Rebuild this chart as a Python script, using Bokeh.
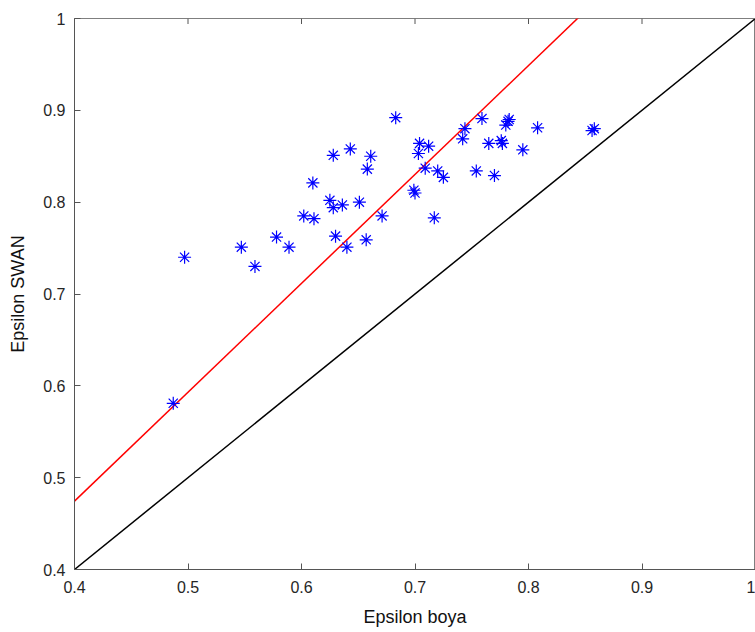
from bokeh.plotting import figure
from bokeh.models import Range1d, FixedTicker
from bokeh.embed import file_html
from bokeh.resources import INLINE

# Data
eps_boya = [0.487, 0.497, 0.547, 0.559, 0.578, 0.589, 0.602, 0.611, 0.610, 0.628,
            0.643, 0.661, 0.658, 0.625, 0.628, 0.636, 0.651, 0.630, 0.640, 0.657,
            0.671, 0.683, 0.704, 0.712, 0.703, 0.709, 0.720, 0.725, 0.699, 0.700,
            0.717, 0.744, 0.742, 0.759, 0.765, 0.776, 0.777, 0.780, 0.782, 0.783,
            0.795, 0.754, 0.770, 0.808, 0.856, 0.858]
eps_swan = [0.581, 0.740, 0.751, 0.730, 0.762, 0.751, 0.785, 0.782, 0.821, 0.851,
            0.858, 0.850, 0.836, 0.802, 0.794, 0.797, 0.800, 0.763, 0.751, 0.759,
            0.785, 0.892, 0.864, 0.861, 0.853, 0.837, 0.834, 0.827, 0.813, 0.810,
            0.783, 0.880, 0.869, 0.891, 0.864, 0.867, 0.864, 0.884, 0.888, 0.890,
            0.857, 0.834, 0.829, 0.881, 0.878, 0.880]
fit_slope = 1.186
line_x = [0.4, 1.0]
x_ticks = [0.4, 0.5, 0.6, 0.7, 0.8, 0.9, 1.0]
y_ticks = [0.4, 0.5, 0.6, 0.7, 0.8, 0.9, 1.0]

p = figure(width=755, height=632, output_backend="svg", toolbar_location=None,
           x_range=Range1d(0.4, 1.0), y_range=Range1d(0.4, 1.0),
           min_border_left=74, min_border_right=0, min_border_top=18, min_border_bottom=63)
p.background_fill_color = "white"
p.border_fill_color = "white"
p.outline_line_color = "#7f7f7f"
p.outline_line_width = 1
p.grid.visible = False

fit_y = [fit_slope * v for v in line_x]
p.line(line_x, line_x, line_color="black", line_width=1.5)
p.line(line_x, fit_y, line_color="red", line_width=1.5)
p.scatter(eps_boya, eps_swan, marker="asterisk", size=13, line_color="blue", line_width=1.2)

# inward tick marks along the top edge of the box
tick_len = 0.006
p.segment(x0=x_ticks, x1=x_ticks, y0=[1.0] * len(x_ticks), y1=[1.0 - tick_len] * len(x_ticks),
          line_color="#555555", line_width=1)

font = "Liberation Sans"
for ax in (p.xaxis[0], p.yaxis[0]):
    ax.axis_line_color = "#555555"
    ax.major_tick_line_color = "#555555"
    ax.major_tick_in = 6
    ax.major_tick_out = 0
    ax.minor_tick_line_color = None
    ax.major_label_text_font = font
    ax.major_label_text_font_size = "16px"
    ax.major_label_text_color = "#262626"
    ax.axis_label_text_font = font
    ax.axis_label_text_font_size = "18px"
    ax.axis_label_text_font_style = "normal"
    ax.axis_label_text_color = "#111111"
p.xaxis[0].ticker = FixedTicker(ticks=x_ticks)
p.yaxis[0].ticker = FixedTicker(ticks=y_ticks)
p.xaxis[0].major_label_overrides = {1.0: "1"}
p.yaxis[0].major_label_overrides = {1.0: "1"}
p.xaxis[0].axis_label = "Epsilon boya"
p.yaxis[0].axis_label = "Epsilon SWAN"
p.xaxis[0].major_label_standoff = 11
p.yaxis[0].major_label_standoff = 9
p.xaxis[0].axis_label_standoff = 11
p.yaxis[0].axis_label_standoff = 12

open("out.html", "w").write(file_html(p, INLINE))
